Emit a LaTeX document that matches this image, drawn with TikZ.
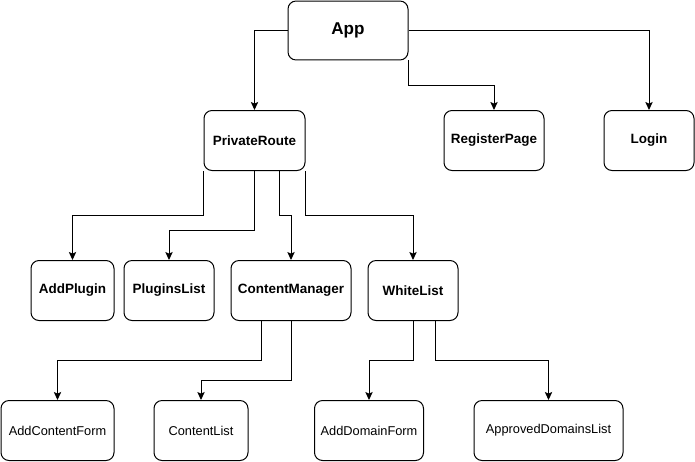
\documentclass[tikz,border=0pt]{standalone}
\usepackage{fontspec}
\setmainfont{Liberation Sans}
\usetikzlibrary{arrows.meta,calc}
\begin{document}
\begin{tikzpicture}[x=0.75pt,y=-0.75pt,
  box/.style={draw=black,line width=0.75pt,rounded corners=6pt,inner sep=0pt,minimum height=45pt},
  bbox/.style={box,font=\bfseries\fontsize{10.1}{12}\selectfont},
  rbox/.style={box,font=\fontsize{9.6}{12}\selectfont},
  arr/.style={draw=black,line width=0.75pt,-{Stealth[length=6pt,width=5.5pt,inset=1.2pt]}}]
\useasboundingbox (0,0) rectangle (695,461);
\node[box,font=\bfseries\fontsize{12.8}{14}\selectfont,minimum width=90pt,minimum height=44.2pt] (App) at (348,30.5) {\raisebox{-1pt}{App}};
\node[bbox,minimum width=75.75pt] (PR) at (254.5,140.5) {PrivateRoute};
\node[bbox,minimum width=75pt] (RP) at (494,140.5) {RegisterPage};
\node[bbox,minimum width=67.5pt] (LG) at (649,140.5) {Login};
\node[bbox,minimum width=62.25pt] (AP) at (72.5,290.5) {AddPlugin};
\node[bbox,minimum width=67.5pt] (PL) at (169,290.5) {PluginsList};
\node[bbox,minimum width=90pt] (CM) at (291,290.5) {ContentManager};
\node[bbox,minimum width=67.5pt] (WL) at (413,290.5) {WhiteList};
\node[rbox,minimum width=84.75pt] (ACF) at (57.5,430.5) {AddContentForm};
\node[rbox,minimum width=70.5pt] (CL) at (201,430.5) {ContentList};
\node[rbox,minimum width=81.75pt] (ADF) at (369,430.5) {AddDomainForm};
\node[rbox,minimum width=111.75pt] (ADL) at (548.5,430.5) {ApprovedDomainsList};
% App connectors
\draw[arr] (App.west) -| (PR.north);
\draw[arr] (App.south east) -- (App.south east |- 0,85.5) -| (RP.north);
\draw[arr] (App.east) -| (LG.north);
% PrivateRoute connectors
\draw[arr] (PR.south west) -- (PR.south west |- 0,215.5) -| (AP.north);
\draw[arr] (PR.south) -- (PR.south |- 0,230.5) -| (PL.north);
\coordinate (pr3) at ($(PR.south)+(24.5,0)$);
\draw[arr] (pr3) -- (pr3 |- 0,215.5) -| (CM.north);
\draw[arr] (PR.south east) -- (PR.south east |- 0,215.5) -| (WL.north);
% ContentManager connectors
\coordinate (cm1) at ($(CM.south)+(-30,0)$);
\draw[arr] (cm1) -- (cm1 |- 0,360.5) -| (ACF.north);
\draw[arr] (CM.south) -- (CM.south |- 0,380.5) -| (CL.north);
% WhiteList connectors
\draw[arr] (WL.south) -- (WL.south |- 0,360.5) -| (ADF.north);
\coordinate (wl2) at ($(WL.south)+(22,0)$);
\draw[arr] (wl2) -- (wl2 |- 0,360.5) -| (ADL.north);
\end{tikzpicture}
\end{document}
